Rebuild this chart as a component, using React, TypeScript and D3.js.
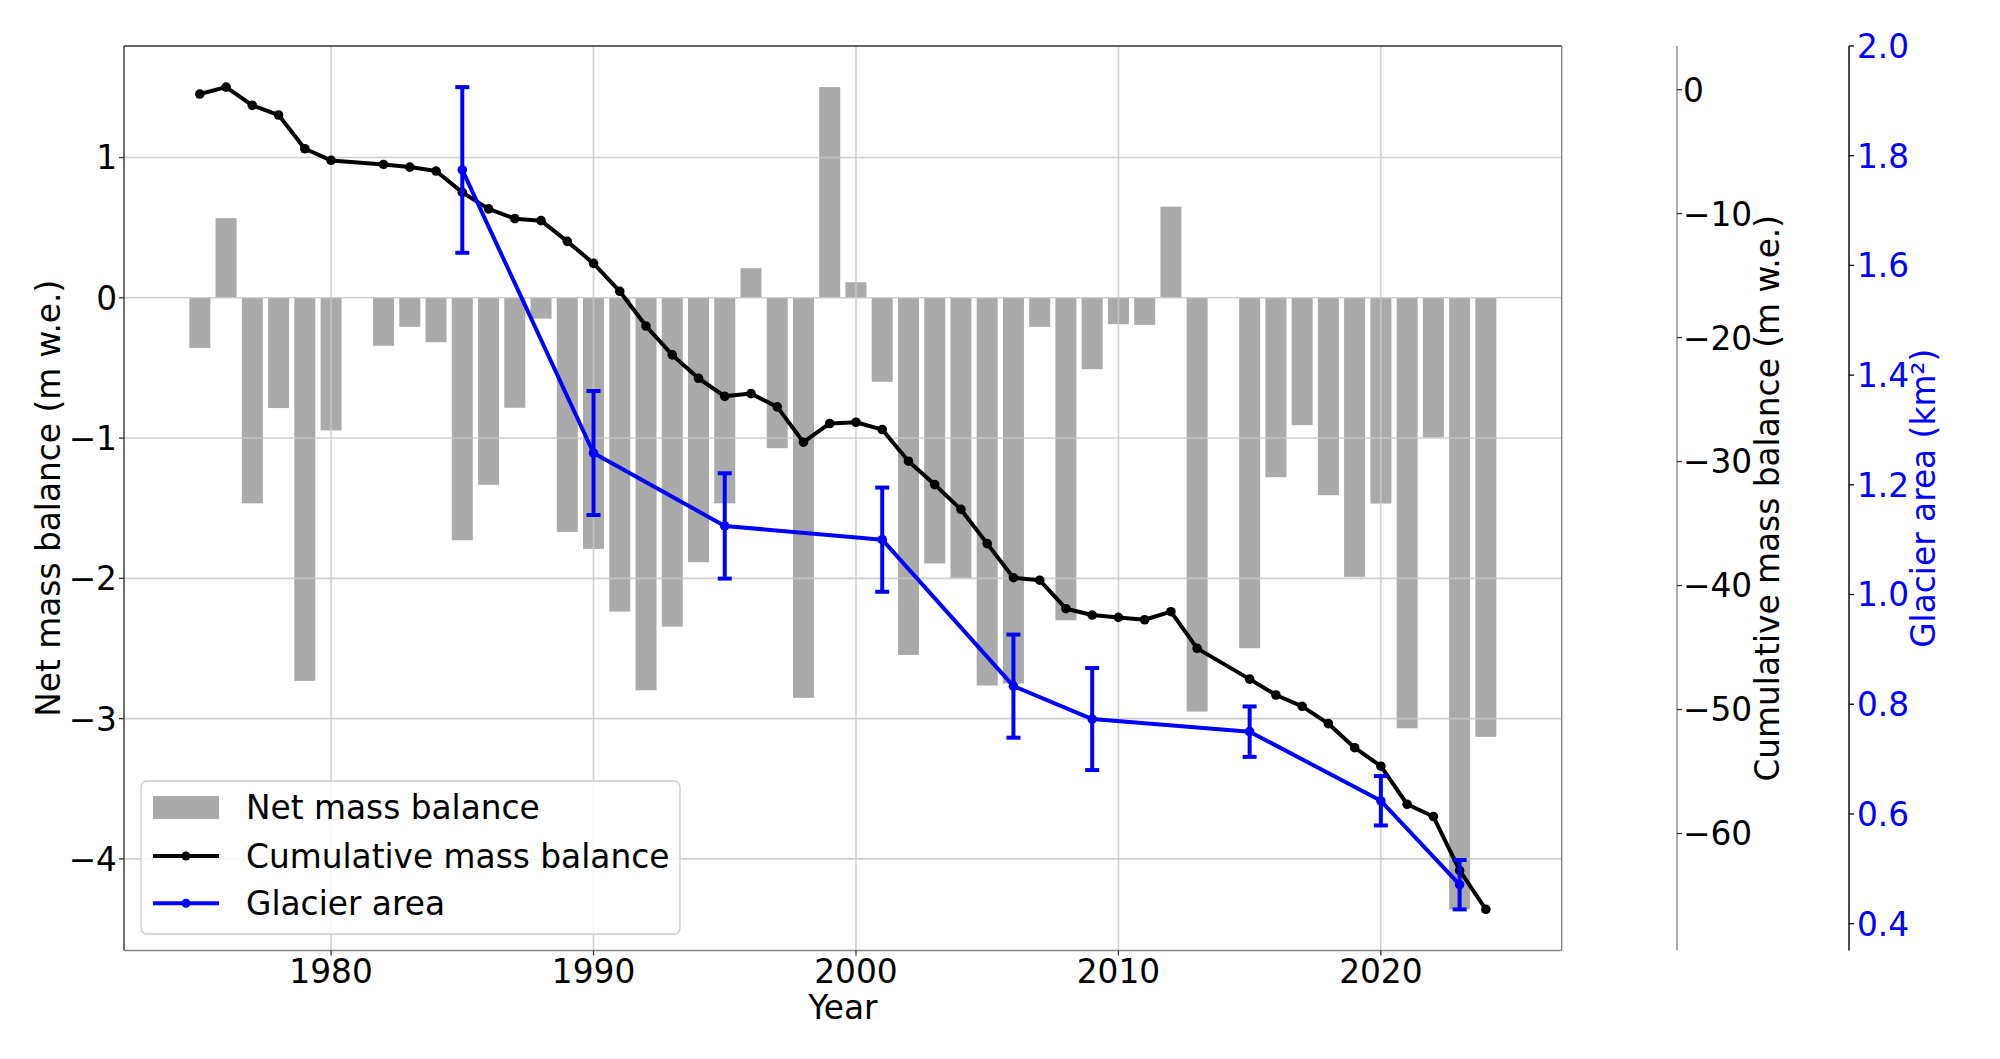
import React from "react";
import { scaleLinear, extent, line, format, range } from "d3";

// net annual mass balance (m w.e.), no survey in 1981 and 2014
const years = [
  1975, 1976, 1977, 1978, 1979, 1980, 1982, 1983, 1984, 1985, 1986, 1987, 1988, 1989,
  1990, 1991, 1992, 1993, 1994, 1995, 1996, 1997, 1998, 1999, 2000, 2001, 2002, 2003,
  2004, 2005, 2006, 2007, 2008, 2009, 2010, 2011, 2012, 2013, 2015, 2016, 2017, 2018,
  2019, 2020, 2021, 2022, 2023, 2024,
];
const netBalance = [
  -0.357, 0.568, -1.465, -0.786, -2.731, -0.945, -0.342, -0.207, -0.317, -1.728, -1.333,
  -0.784, -0.148, -1.669, -1.79, -2.237, -2.798, -2.344, -1.885, -1.465, 0.211, -1.072,
  -2.852, 1.502, 0.111, -0.599, -2.546, -1.894, -1.999, -2.764, -2.75, -0.207, -2.299,
  -0.509, -0.188, -0.193, 0.65, -2.95, -2.498, -1.279, -0.908, -1.407, -1.989, -1.467,
  -3.069, -0.996, -4.36, -3.13,
];
const cumulative = [
  -0.36, 0.2, -1.27, -2.05, -4.77, -5.71, -6.04, -6.25, -6.57, -8.29, -9.62, -10.41,
  -10.57, -12.24, -14.02, -16.27, -19.07, -21.4, -23.28, -24.74, -24.52, -25.59, -28.44,
  -26.93, -26.83, -27.42, -29.97, -31.86, -33.86, -36.62, -39.37, -39.57, -41.87, -42.38,
  -42.57, -42.76, -42.11, -45.07, -47.55, -48.83, -49.74, -51.14, -53.08, -54.57, -57.64,
  -58.63, -62.98, -66.12,
];

// glacier area (km²) with uncertainty
const areaYears = [1985, 1990, 1995, 2001, 2006, 2009, 2015, 2020, 2023];
const area = [1.774, 1.258, 1.125, 1.1, 0.833, 0.773, 0.75, 0.624, 0.471];
const areaErr = [0.151, 0.113, 0.096, 0.095, 0.094, 0.093, 0.046, 0.045, 0.045];

const xTicks = [1980, 1990, 2000, 2010, 2020];
const leftTicks = [-4, -3, -2, -1, 0, 1];
const cumTicks = [-60, -50, -40, -30, -20, -10, 0];
const areaTicks = range(0.4, 2.01, 0.2);

const W = 2000;
const H = 1059;
const plot = { left: 124, right: 1561.7, top: 46, bottom: 950.5 };
const cumAxisX = 1677;
const areaAxisX = 1849;
const font = "DejaVu Sans, sans-serif";
const fs = 32.8;
const barWidth = 0.8;

// matplotlib style 5% padding
function pad([lo, hi]: number[]) {
  const d = hi - lo;
  return [lo - 0.05 * d, hi + 0.05 * d];
}

export default function App() {
  const [y0, y1] = extent(years) as [number, number];
  const x = scaleLinear()
    .domain(pad([y0 - barWidth / 2, y1 + barWidth / 2]))
    .range([plot.left, plot.right]);

  const yLeft = scaleLinear()
    .domain(pad([Math.min(0, ...netBalance), Math.max(0, ...netBalance)]))
    .range([plot.bottom, plot.top]);

  const yCum = scaleLinear()
    .domain(pad(extent(cumulative) as [number, number]))
    .range([plot.bottom, plot.top]);

  const yArea = scaleLinear()
    .domain(
      pad([
        Math.min(...area.map((a, i) => a - areaErr[i])),
        Math.max(...area.map((a, i) => a + areaErr[i])),
      ])
    )
    .range([plot.bottom, plot.top]);

  const cumLine = line<number>()
    .x((_, i) => x(years[i]))
    .y((d) => yCum(d));
  const areaLine = line<number>()
    .x((_, i) => x(areaYears[i]))
    .y((d) => yArea(d));

  const fmtInt = format("d");
  const fmtArea = format(".1f");
  const gridStyle = { stroke: "#c8c8c8", strokeOpacity: 0.85, strokeWidth: 1.6 };
  const halfBar = (x(1) - x(0)) * barWidth / 2;

  const legendRows = [807.5, 856, 903.3];

  return (
    <svg
      width={W}
      height={H}
      style={{ position: "absolute", left: 0, top: 0, background: "#fff" }}
      fontFamily={font}
    >
      {/* bars */}
      {years.map((yr, i) => {
        const v = netBalance[i];
        return (
          <rect
            key={yr}
            x={x(yr) - halfBar}
            y={Math.min(yLeft(v), yLeft(0))}
            width={halfBar * 2}
            height={Math.abs(yLeft(v) - yLeft(0))}
            fill="#aaaaaa"
          />
        );
      })}

      {/* grid */}
      {xTicks.map((t) => (
        <line key={"gx" + t} x1={x(t)} x2={x(t)} y1={plot.top} y2={plot.bottom} {...gridStyle} />
      ))}
      {leftTicks.map((t) => (
        <line key={"gy" + t} x1={plot.left} x2={plot.right} y1={yLeft(t)} y2={yLeft(t)} {...gridStyle} />
      ))}

      {/* cumulative mass balance */}
      <path d={cumLine(cumulative) ?? ""} fill="none" stroke="#000" strokeWidth={4} strokeLinejoin="round" />
      {cumulative.map((v, i) => (
        <circle key={"c" + i} cx={x(years[i])} cy={yCum(v)} r={4.8} fill="#000" />
      ))}

      {/* glacier area with error bars */}
      <path d={areaLine(area) ?? ""} fill="none" stroke="#0000ff" strokeWidth={4} strokeLinejoin="round" />
      {area.map((v, i) => {
        const cx = x(areaYears[i]);
        const top = yArea(v + areaErr[i]);
        const bot = yArea(v - areaErr[i]);
        return (
          <g key={"a" + i} stroke="#0000ff" strokeWidth={4}>
            <line x1={cx} x2={cx} y1={top} y2={bot} />
            <line x1={cx - 7} x2={cx + 7} y1={top} y2={top} />
            <line x1={cx - 7} x2={cx + 7} y1={bot} y2={bot} />
            <circle cx={cx} cy={yArea(v)} r={4.8} fill="#0000ff" stroke="none" />
          </g>
        );
      })}

      {/* frame */}
      <line x1={plot.left} x2={plot.right} y1={plot.top} y2={plot.top} stroke="#333" strokeWidth={1.4} />
      <line x1={plot.left} x2={plot.left} y1={plot.top} y2={plot.bottom} stroke="#333" strokeWidth={1.4} />
      <line x1={plot.right} x2={plot.right} y1={plot.top} y2={plot.bottom} stroke="#888" strokeWidth={1.4} />
      <line x1={plot.left} x2={plot.right} y1={plot.bottom} y2={plot.bottom} stroke="#888" strokeWidth={1.4} />

      {/* x axis */}
      {xTicks.map((t) => (
        <g key={"xt" + t}>
          <line x1={x(t)} x2={x(t)} y1={plot.bottom} y2={plot.bottom + 5} stroke="#333" strokeWidth={1.3} />
          <text x={x(t)} y={983} textAnchor="middle" fontSize={fs}>
            {t}
          </text>
        </g>
      ))}
      <text x={(plot.left + plot.right) / 2} y={1019} textAnchor="middle" fontSize={fs}>
        Year
      </text>

      {/* left axis */}
      {leftTicks.map((t) => (
        <g key={"yl" + t}>
          <line x1={plot.left - 5} x2={plot.left} y1={yLeft(t)} y2={yLeft(t)} stroke="#333" strokeWidth={1.3} />
          <text x={117} y={yLeft(t) + fs * 0.364} textAnchor="end" fontSize={fs}>
            {fmtInt(t)}
          </text>
        </g>
      ))}
      <text
        transform={`translate(60,${(plot.top + plot.bottom) / 2}) rotate(-90)`}
        textAnchor="middle"
        fontSize={fs}
      >
        Net mass balance (m w.e.)
      </text>

      {/* cumulative axis */}
      <line x1={cumAxisX} x2={cumAxisX} y1={plot.top} y2={plot.bottom} stroke="#888" strokeWidth={1.4} />
      {cumTicks.map((t) => (
        <g key={"yc" + t}>
          <line x1={cumAxisX} x2={cumAxisX + 5} y1={yCum(t)} y2={yCum(t)} stroke="#333" strokeWidth={1.3} />
          <text x={cumAxisX + 6} y={yCum(t) + fs * 0.364} fontSize={fs}>
            {fmtInt(t)}
          </text>
        </g>
      ))}
      <text
        transform={`translate(1779,${(plot.top + plot.bottom) / 2}) rotate(-90)`}
        textAnchor="middle"
        fontSize={fs}
      >
        Cumulative mass balance (m w.e.)
      </text>

      {/* glacier area axis */}
      <line x1={areaAxisX} x2={areaAxisX} y1={plot.top} y2={plot.bottom} stroke="#000" strokeWidth={1.4} />
      {areaTicks.map((t) => (
        <g key={"ya" + t}>
          <line x1={areaAxisX} x2={areaAxisX + 5} y1={yArea(t)} y2={yArea(t)} stroke="#000" strokeWidth={1.3} />
          <text x={areaAxisX + 8} y={yArea(t) + fs * 0.364} fontSize={fs} fill="#0000ff">
            {fmtArea(t)}
          </text>
        </g>
      ))}
      <text
        transform={`translate(1935,${(plot.top + plot.bottom) / 2}) rotate(-90)`}
        textAnchor="middle"
        fontSize={fs}
        fill="#0000ff"
      >
        Glacier area (km²)
      </text>

      {/* legend */}
      <rect x={141} y={781} width={539} height={153} rx={6} fill="#fff" fillOpacity={0.8} stroke="#cccccc" strokeWidth={1.3} />
      <rect x={153} y={legendRows[0] - 11.5} width={66} height={23} fill="#aaaaaa" />
      <line x1={153} x2={219} y1={legendRows[1]} y2={legendRows[1]} stroke="#000" strokeWidth={4} />
      <circle cx={186} cy={legendRows[1]} r={4.5} fill="#000" />
      <line x1={153} x2={219} y1={legendRows[2]} y2={legendRows[2]} stroke="#0000ff" strokeWidth={4} />
      <circle cx={186} cy={legendRows[2]} r={4.5} fill="#0000ff" />
      {["Net mass balance", "Cumulative mass balance", "Glacier area"].map((s, i) => (
        <text key={s} x={246} y={legendRows[i] + 11.8} fontSize={fs}>
          {s}
        </text>
      ))}
    </svg>
  );
}
